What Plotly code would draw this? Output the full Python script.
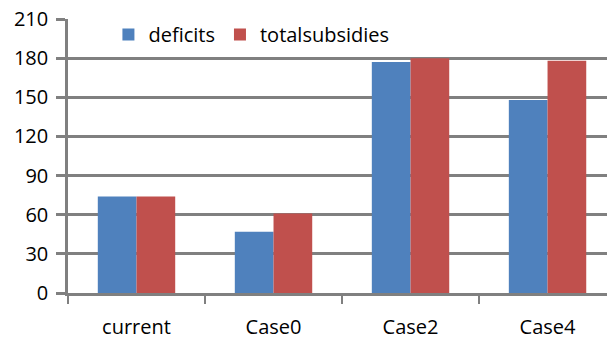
import plotly.graph_objects as go

# Scenario categories and the two series plotted for each
categories = ["current", "Case0", "Case2", "Case4"]
deficits = [74, 47, 177, 148]
total_subsidies = [74, 61, 180, 178]
y_ticks = [0, 30, 60, 90, 120, 150, 180, 210]

BLUE = "#4F81BD"
RED = "#C0504D"
GRID = "#808080"
FONT = "Open Sans"

fig = go.Figure()
fig.add_trace(go.Bar(x=categories, y=deficits, name="deficits",
                     marker=dict(color=BLUE, line=dict(width=0))))
fig.add_trace(go.Bar(x=categories, y=total_subsidies, name="totalsubsidies",
                     marker=dict(color=RED, line=dict(width=0))))

fig.update_layout(
    width=607, height=339,
    margin=dict(l=68, r=0, t=19, b=46),
    paper_bgcolor="white", plot_bgcolor="white",
    barmode="group", bargap=0.435, bargroupgap=0,
    font=dict(family=FONT, size=20, color="black"),
    showlegend=True,
    legend=dict(orientation="h", x=0.075, y=1.015, xanchor="left", yanchor="top",
                bgcolor="rgba(0,0,0,0)", font=dict(family=FONT, size=20),
                itemclick=False),
)

fig.update_xaxes(
    type="category", range=[-0.5, 3.434],
    tickson="boundaries", ticks="outside", ticklen=8, tickwidth=2, tickcolor=GRID,
    showline=True, linecolor=GRID, linewidth=2.5, showgrid=False,
    ticklabelstandoff=14,
)
fig.update_yaxes(
    range=[0, 210], tickvals=y_ticks,
    ticks="outside", ticklen=9, tickwidth=2.5, tickcolor=GRID,
    showline=True, linecolor=GRID, linewidth=2.5,
    showgrid=True, gridcolor=GRID, gridwidth=2.5, zeroline=False,
    ticklabelstandoff=4,
)

fig.write_html("out.html")
